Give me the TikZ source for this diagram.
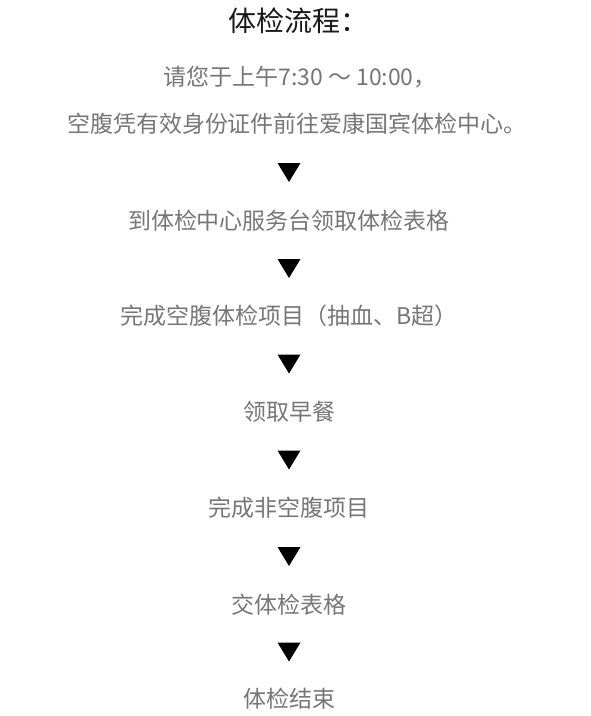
\documentclass[tikz,border=0pt]{standalone}
\usepackage{fontspec}
\setmainfont{Noto Sans CJK SC}
\usetikzlibrary{calc}
\definecolor{textgray}{RGB}{118,118,118}
\definecolor{titleblack}{RGB}{25,25,25}
\tikzset{
  steptext/.style={inner sep=0pt, text=textgray, font=\fontsize{23}{23}\selectfont},
  titletext/.style={inner sep=0pt, text=titleblack, font=\fontsize{28}{28}\selectfont},
}
\begin{document}
\begin{tikzpicture}[x=1pt,y=-1pt]
        %% frame
        \useasboundingbox (0,0) rectangle (591,716);

        %% define points
        \def\cx{289};
        \def\tw{11.5};
        \def\th{9.5};

        %% title and intro
        \node[titletext] (title) at (\cx+9,21) {体检流程：};
        \node[steptext] (intro) at (\cx+11,77) {请您于上午7:30 ～ 10:00，};
        \node[steptext] (introb) at (\cx+8,124) {空腹凭有效身份证件前往爱康国宾体检中心。};

        %% steps
        \node[steptext] (desk) at (\cx,221) {到体检中心服务台领取体检表格};
        \node[steptext] (fasting) at (\cx,316) {完成空腹体检项目（抽血、B超）};
        \node[steptext] (breakfast) at (\cx,412) {领取早餐};
        \node[steptext] (other) at (\cx,508) {完成非空腹项目};
        \node[steptext] (handin) at (\cx,605) {交体检表格};
        \node[steptext] (finish) at (\cx,699) {体检结束};

        %% triangles between steps
        \fill ($(desk)!0.5!(desk|-introb)$) ++(-\tw,-\th) -- ++(2*\tw,0) -- ++(-\tw,2*\th) -- cycle;
        \fill ($(desk)!0.5!(fasting)$) ++(-\tw,-\th) -- ++(2*\tw,0) -- ++(-\tw,2*\th) -- cycle;
        \fill ($(fasting)!0.5!(breakfast)$) ++(-\tw,-\th) -- ++(2*\tw,0) -- ++(-\tw,2*\th) -- cycle;
        \fill ($(breakfast)!0.5!(other)$) ++(-\tw,-\th) -- ++(2*\tw,0) -- ++(-\tw,2*\th) -- cycle;
        \fill ($(other)!0.5!(handin)$) ++(-\tw,-\th) -- ++(2*\tw,0) -- ++(-\tw,2*\th) -- cycle;
        \fill ($(handin)!0.5!(finish)$) ++(-\tw,-\th) -- ++(2*\tw,0) -- ++(-\tw,2*\th) -- cycle;
\end{tikzpicture}
\end{document}
